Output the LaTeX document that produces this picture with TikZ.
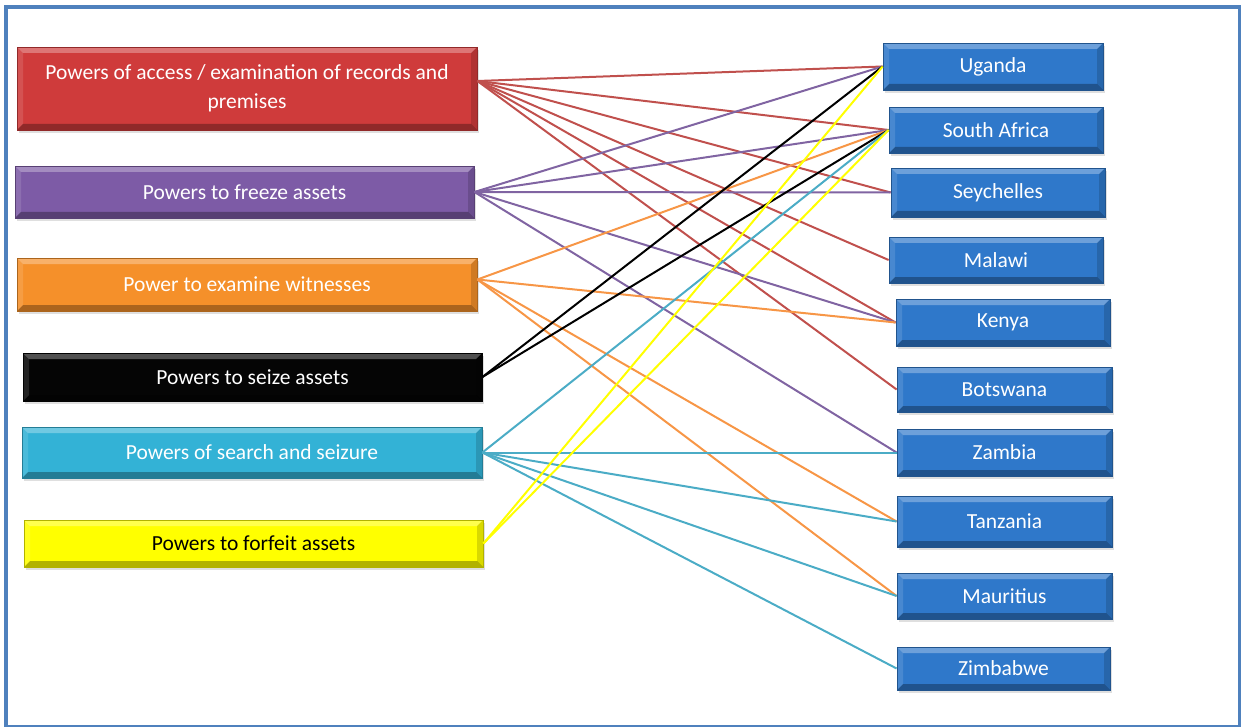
\documentclass[tikz,border=0pt]{standalone}
\usepackage{fontspec}
\setmainfont{Carlito}
\usetikzlibrary{shadows}
\definecolor{redbox}{HTML}{CF3B3B}
\definecolor{purplebox}{HTML}{7D5BA6}
\definecolor{orangebox}{HTML}{F5902A}
\definecolor{blackbox}{HTML}{050505}
\definecolor{cyanbox}{HTML}{33B2D6}
\definecolor{yellowbox}{HTML}{FFFF00}
\definecolor{bluebox}{HTML}{2F78CA}
\definecolor{framec}{HTML}{4F81BD}
\definecolor{redl}{HTML}{C0504D}
\definecolor{purplel}{HTML}{8064A2}
\definecolor{orangel}{HTML}{F79646}
\definecolor{cyanl}{HTML}{4BACC6}
\definecolor{yellowl}{HTML}{FFFF00}
\begin{document}
\begin{tikzpicture}[x=1pt,y=-1pt,
  bevel/.style={path picture={
    \coordinate (bNW) at (path picture bounding box.north west);
    \coordinate (bNE) at (path picture bounding box.north east);
    \coordinate (bSW) at (path picture bounding box.south west);
    \coordinate (bSE) at (path picture bounding box.south east);
    \fill[white,opacity=0.3] (bNW) -- (bNE) -- ([shift={(-6pt,-6pt)}]bNE) -- ([shift={(6pt,-6pt)}]bNW) -- cycle;
    \fill[black,opacity=0.3] (bSW) -- (bSE) -- ([shift={(-6pt,6pt)}]bSE) -- ([shift={(6pt,6pt)}]bSW) -- cycle;
    \fill[white,opacity=0.12] (bNW) -- ([shift={(6pt,-6pt)}]bNW) -- ([shift={(6pt,6pt)}]bSW) -- (bSW) -- cycle;
    \fill[black,opacity=0.15] (bNE) -- ([shift={(-6pt,-6pt)}]bNE) -- ([shift={(-6pt,6pt)}]bSE) -- (bSE) -- cycle;
  }},
  box/.style={rectangle, inner sep=0pt, fill=#1, draw=#1!70!black, line width=0.8pt,
    text=white, align=center, font=\fontsize{21.5}{29}\selectfont,
    drop shadow={shadow xshift=1.5pt,shadow yshift=-3pt,opacity=0.25}, bevel},
  conn/.style={line width=2pt, draw=#1}
]
\useasboundingbox (0,0) rectangle (1241,727);
\draw[framec, line width=4pt] (6,7.5) rectangle (1239.5,727);

% left boxes
\node[box=redbox, minimum width=460pt, minimum height=83pt] (rec) at (247,88.5)
  {Powers of access / examination of records and\\premises};
\node[box=purplebox, minimum width=459pt, minimum height=52pt] (frz) at (244.5,192) {Powers to freeze assets};
\node[box=orangebox, minimum width=460pt, minimum height=53pt] (wit) at (247,284.5) {Power to examine witnesses};
\node[box=blackbox, minimum width=459pt, minimum height=48pt] (sei) at (252.5,377) {Powers to seize assets};
\node[box=cyanbox, minimum width=460pt, minimum height=51pt] (sea) at (252,452.5) {Powers of search and seizure};
\node[box=yellowbox, text=black, minimum width=459pt, minimum height=47pt] (for) at (253.5,543.5) {Powers to forfeit assets};

% right boxes
\node[box=bluebox, minimum width=220pt, minimum height=47pt] (uga) at (993,66.5) {Uganda};
\node[box=bluebox, minimum width=214pt, minimum height=46pt] (saf) at (996,130) {South Africa};
\node[box=bluebox, minimum width=214pt, minimum height=49pt] (sey) at (998,192.5) {Seychelles};
\node[box=bluebox, minimum width=214pt, minimum height=46pt] (mal) at (996,260) {Malawi};
\node[box=bluebox, minimum width=214pt, minimum height=47pt] (ken) at (1003,322.5) {Kenya};
\node[box=bluebox, minimum width=215pt, minimum height=45pt] (bot) at (1004.5,389.5) {Botswana};
\node[box=bluebox, minimum width=215pt, minimum height=47pt] (zam) at (1004.5,452.5) {Zambia};
\node[box=bluebox, minimum width=215pt, minimum height=51pt] (tan) at (1004.5,521.5) {Tanzania};
\node[box=bluebox, minimum width=215pt, minimum height=46pt] (mau) at (1004.5,596) {Mauritius};
\node[box=bluebox, minimum width=213pt, minimum height=43pt] (zim) at (1003.5,668.5) {Zimbabwe};

% connectors
\foreach \t in {uga,saf,sey,mal,ken,bot}
  \draw[conn=redl] ([yshift=7.5pt]rec.east) -- (\t.west);
\foreach \t in {uga,saf,sey,ken,zam}
  \draw[conn=purplel] (frz.east) -- (\t.west);
\foreach \t in {saf,ken,tan,mau}
  \draw[conn=orangel] ([yshift=5pt]wit.east) -- (\t.west);
\foreach \t in {uga,saf}
  \draw[conn=black] (sei.east) -- (\t.west);
\foreach \t in {saf,zam,tan,mau,zim}
  \draw[conn=cyanl] (sea.east) -- (\t.west);
\foreach \t in {uga,saf}
  \draw[conn=yellowl] (for.east) -- (\t.west);
\end{tikzpicture}
\end{document}
